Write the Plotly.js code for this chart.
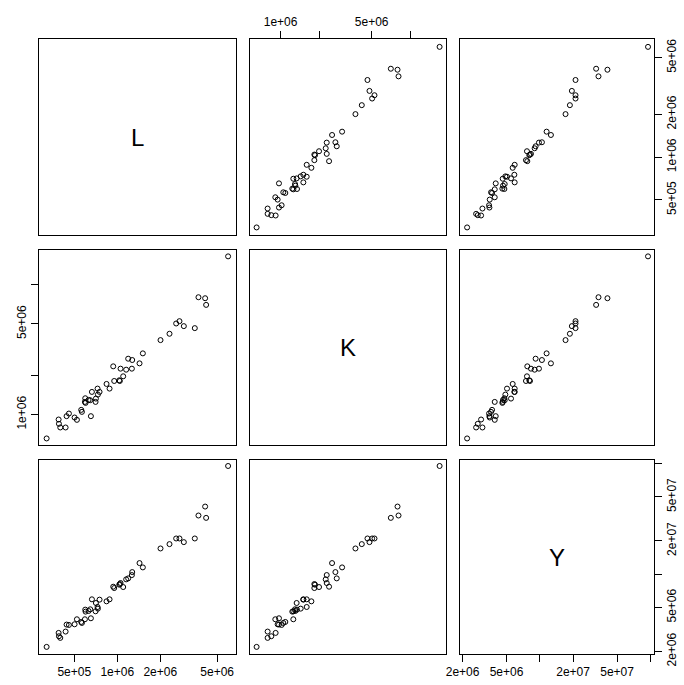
<!DOCTYPE html>
<html>
<head>
<meta charset="utf-8">
<script src="https://cdn.plot.ly/plotly-3.0.1.min.js"></script>
<style>html,body{margin:0;padding:0;background:#fff;}#plot{width:684px;height:685px;}</style>
</head>
<body>
<div id="plot"></div>
<script>
// Variables
const L = [5966000, 3700000, 4120000, 4187000, 2583000, 2725000, 2923000, 3488000, 2320000, 2007000,
           1510000, 1431000, 1272000, 1265000, 1192000, 1154000, 1054000, 1032000, 1042000, 1100000,
           936500, 951700, 841000, 882800, 751500, 727700, 731700, 664300, 708500, 704700,
           596600, 629500, 646700, 599800, 653600, 593300, 559300, 565400, 521700, 502400,
           458500, 441700, 434700, 388400, 390400, 399000, 320100];
const K = [16630000, 8044000, 7903000, 7022000, 5044000, 5258000, 4812000, 4645000, 4201000, 3755000,
           2966000, 2484000, 2635000, 2260000, 2698000, 2220000, 2260000, 1838000, 1816000, 1973000,
           2356000, 1816000, 1723000, 1586000, 1495000, 1586000, 1426000, 1495000, 1328000, 1252000,
           1336000, 1297000, 1290000, 1230000, 971600, 1252000, 1087000, 1049000, 910400, 948900,
           1018000, 971600, 794700, 915800, 848200, 794700, 654100];
const Y = [95280000, 33950000, 40910000, 32330000, 21040000, 21040000, 19500000, 21040000, 18710000, 17090000,
           11520000, 12600000, 10450000, 9820000, 9165000, 8977000, 8317000, 8035000, 8145000, 7651000,
           7706000, 7494000, 5683000, 5925000, 5884000, 5050000, 4879000, 5925000, 5489000, 4617000,
           4779000, 4648000, 4812000, 4585000, 3992000, 3910000, 3698000, 3622000, 3910000, 3523000,
           3474000, 3500000, 3026000, 2943000, 2746000, 2653000, 2199000];

const varNames = ['L', 'K', 'Y'];
const varData = {L: L, K: K, Y: Y};
const tickVals = {
  L: [5e5, 1e6, 2e6, 5e6],
  K: [1e6, 2e6, 5e6, 1e7],
  Y: [2e6, 5e6, 1e7, 2e7, 5e7, 1e8]
};
const tickText = {
  L: ['5e+05', '1e+06', '2e+06', '5e+06'],
  K: ['1e+06', '', '5e+06', ''],
  Y: ['2e+06', '5e+06', '', '2e+07', '5e+07', '']
};
</script>
<script>
const ranges = {L: [5.452, 6.831], K: [5.765, 7.27], Y: [6.278, 8.033]};
const colDom = [[0, 197/615], [211/615, 407/615], [421/615, 1]];
const rowDom = [[419/615, 1], [209/615, 404/615], [0, 194/615]];
// which panels carry ticks: [panel index] -> side
const xTickPanels = {2: 'top', 7: 'bottom', 9: 'bottom'};
const yTickPanels = {3: 'right', 4: 'left', 9: 'right'};
const tfont = {family: 'Liberation Sans, Arial, sans-serif', size: 12, color: '#000'};

const data = [];
const layout = {
  width: 684, height: 685,
  margin: {l: 39, r: 30, t: 39, b: 31, pad: 0},
  showlegend: false,
  paper_bgcolor: '#fff', plot_bgcolor: '#fff',
  annotations: []
};

for (let i = 0; i < 3; i++) {
  for (let j = 0; j < 3; j++) {
    const p = i * 3 + j + 1;
    const s = p === 1 ? '' : String(p);
    const xv = varNames[j], yv = varNames[i];
    const xa = {
      type: 'log', domain: colDom[j], range: ranges[xv], anchor: 'y' + s,
      showline: true, mirror: true, linecolor: '#000', linewidth: 1,
      showgrid: false, zeroline: false, ticks: '', showticklabels: false, fixedrange: true
    };
    const ya = {
      type: 'log', domain: rowDom[i], range: ranges[yv], anchor: 'x' + s,
      showline: true, mirror: true, linecolor: '#000', linewidth: 1,
      showgrid: false, zeroline: false, ticks: '', showticklabels: false, fixedrange: true
    };
    if (xTickPanels[p]) {
      Object.assign(xa, {side: xTickPanels[p], ticks: 'outside', ticklen: 7, tickwidth: 1, tickcolor: '#000',
        tickmode: 'array', tickvals: tickVals[xv], ticktext: tickText[xv], showticklabels: true, tickfont: tfont, tickangle: 0});
    }
    if (yTickPanels[p]) {
      Object.assign(ya, {side: yTickPanels[p], ticks: 'outside', ticklen: 7, tickwidth: 1, tickcolor: '#000',
        tickmode: 'array', tickvals: tickVals[yv], ticktext: tickText[yv], showticklabels: true, tickfont: tfont, tickangle: -90});
    }
    layout['xaxis' + s] = xa;
    layout['yaxis' + s] = ya;
    if (i !== j) {
      data.push({
        type: 'scatter', mode: 'markers',
        x: varData[xv], y: varData[yv],
        xaxis: 'x' + s, yaxis: 'y' + s,
        marker: {symbol: 'circle-open', size: 5, color: '#000', line: {width: 1, color: '#000'}},
        hoverinfo: 'skip', cliponaxis: false
      });
    } else {
      data.push({type: 'scatter', mode: 'markers', x: [], y: [], xaxis: 'x' + s, yaxis: 'y' + s, hoverinfo: 'skip'});
      layout.annotations.push({
        xref: 'x' + s + ' domain', yref: 'y' + s + ' domain', x: 0.5, y: 0.5,
        xanchor: 'center', yanchor: 'middle', showarrow: false,
        text: xv, font: {family: 'Liberation Sans, Arial, sans-serif', size: 24, color: '#000'}
      });
    }
  }
}

Plotly.newPlot('plot', data, layout, {staticPlot: true, displayModeBar: false});
</script>
</body>
</html>
